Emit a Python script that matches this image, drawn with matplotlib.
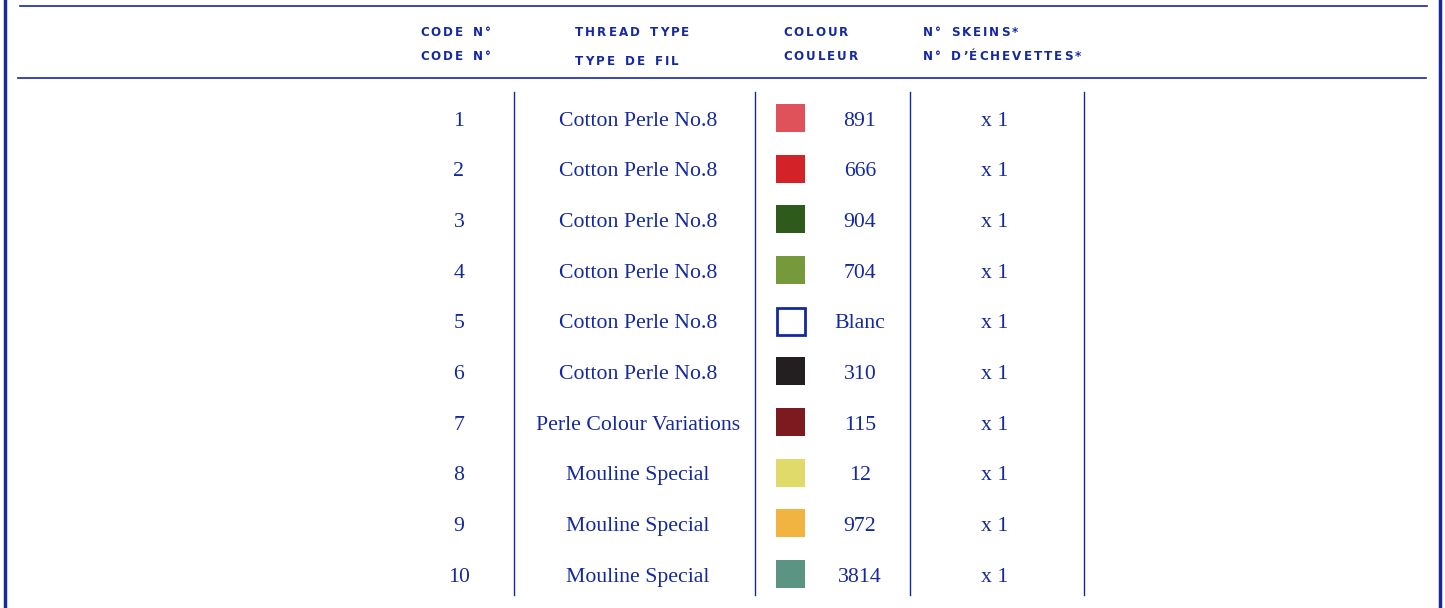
import matplotlib
matplotlib.use('Agg')
import matplotlib.pyplot as plt
from matplotlib.patches import Rectangle

# 表のデータ
codes = ['1', '2', '3', '4', '5', '6', '7', '8', '9', '10']
thread_types = ['Cotton Perle No.8'] * 6 + ['Perle Colour Variations'] + ['Mouline Special'] * 3
colour_nums = ['891', '666', '904', '704', 'Blanc', '310', '115', '12', '972', '3814']
swatches = ['#e0525a', '#d42328', '#2e5a1c', '#76993c', '#ffffff',
            '#231f20', '#7d1a20', '#e0da6a', '#f2b440', '#5c9484']
skeins = ['x 1'] * 10

header_en = ['CODE N°', 'THREAD TYPE', 'COLOUR', 'N° SKEINS*']
header_fr = ['CODE N°', 'TYPE DE FIL', 'COULEUR', 'N° D’ÉCHEVETTES*']

blue = '#1428a0'

W, H = 1445, 608
fig = plt.figure(figsize=(W / 100, H / 100), dpi=100)
ax = fig.add_axes([0, 0, 1, 1])
ax.set_xlim(0, W)
ax.set_ylim(H, 0)
ax.axis('off')
renderer = fig.canvas.get_renderer()


def spaced(x, y, s, track, **kw):
    # 字間を空けて1文字ずつ描く
    for ch in s:
        if ch == ' ':
            x += 6 + track
            continue
        t = ax.text(x, y, ch, **kw)
        x += t.get_window_extent(renderer).width + track


# 外枠と横線
ax.plot([5, 5], [0, H], color=blue, lw=2.5)
ax.plot([1440, 1440], [0, H], color=blue, lw=2.5)
ax.plot([20, 1427], [6, 6], color=blue, lw=1.2)
ax.plot([18, 1426], [78, 78], color=blue, lw=1.2)

# ヘッダー
head_x = [420, 575, 783, 923]
hkw = dict(color=blue, fontsize=8.6, family='DejaVu Sans', weight='bold',
           va='baseline', ha='left')
for hx, en, fr in zip(head_x, header_en, header_fr):
    spaced(hx, 36, en, 2.0, **hkw)
    spaced(hx, 65 if fr == 'TYPE DE FIL' else 60, fr, 2.0, **hkw)

# 縦の区切り線
for sx in [514, 755, 910, 1084]:
    ax.plot([sx, sx], [92, 595], color=blue, lw=1.0)

# 行
row0, step = 118, 50.67
bkw = dict(color=blue, fontsize=15.7, family='Liberation Serif', va='baseline', ha='center')
for i in range(len(codes)):
    y = row0 + i * step
    ax.text(459, y + 7.5, codes[i], **bkw)
    ax.text(638, y + 7.5, thread_types[i], **bkw)
    if swatches[i] == '#ffffff':
        ax.add_patch(Rectangle((777, y - 13), 28, 27, facecolor='white',
                               edgecolor=blue, lw=2))
    else:
        ax.add_patch(Rectangle((776, y - 14), 29, 28, facecolor=swatches[i],
                               edgecolor='none'))
    ax.text(860, y + 7.5, colour_nums[i], **bkw)
    ax.text(995, y + 7.5, skeins[i], **bkw)

fig.savefig('out.png', dpi=100)
